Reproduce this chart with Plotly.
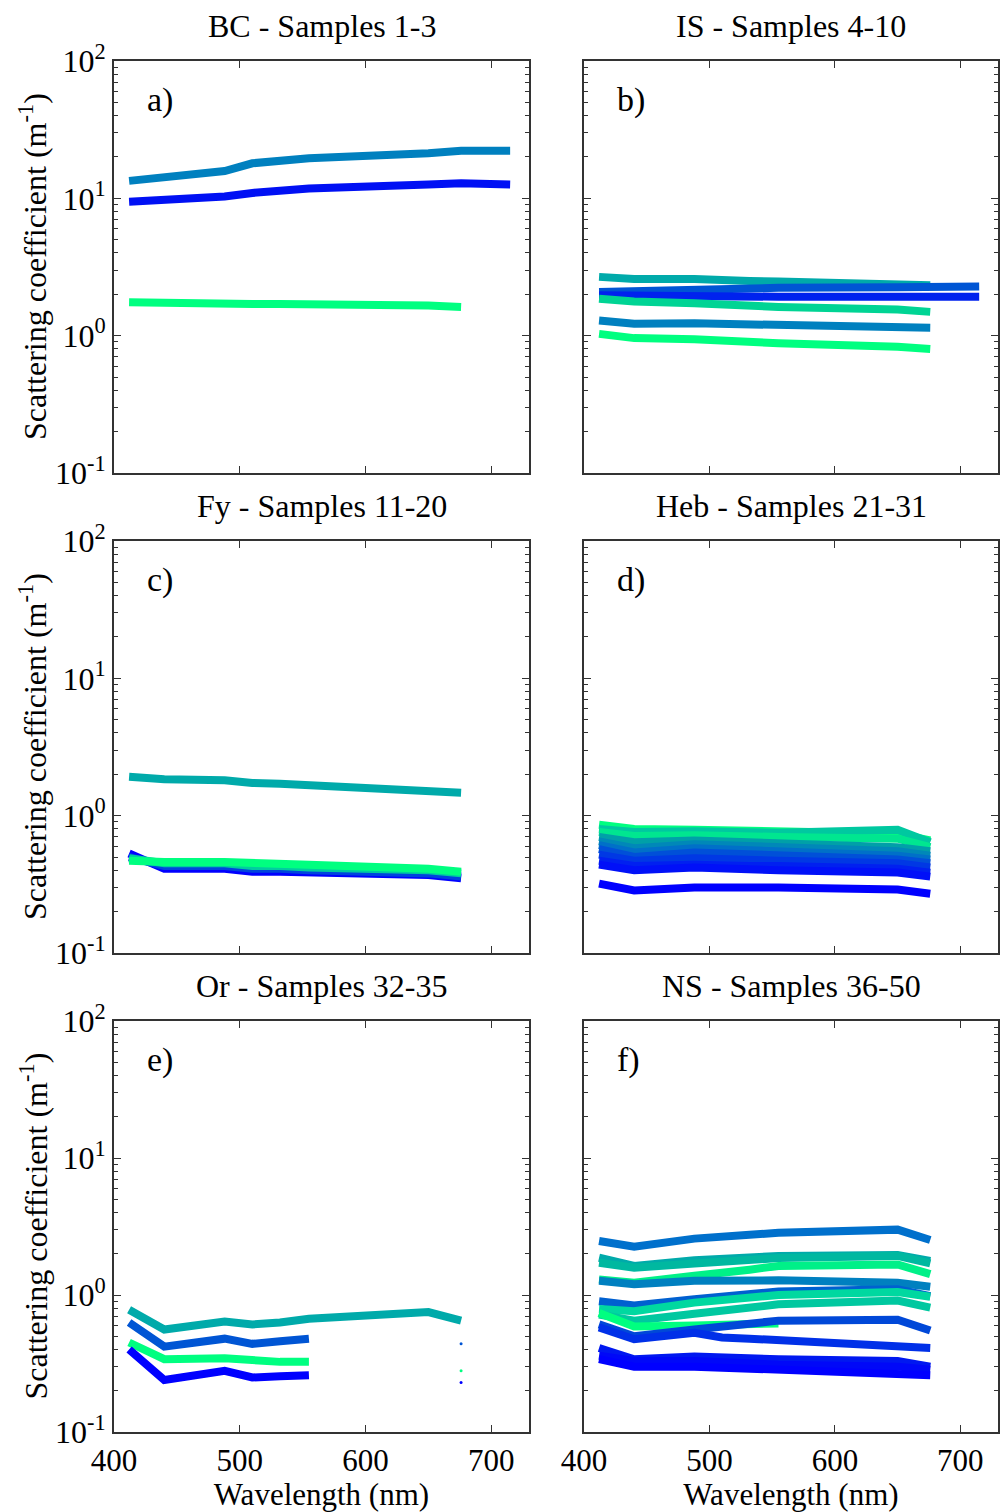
import plotly.graph_objects as go

# ---------------- data ----------------
wavelengths = [412, 440, 488, 510, 532, 555, 650, 676, 715]

panel_titles = ["BC - Samples 1-3", "IS - Samples 4-10", "Fy - Samples 11-20",
                "Heb - Samples 21-31", "Or - Samples 32-35", "NS - Samples 36-50"]
panel_letters = ["a)", "b)", "c)", "d)", "e)", "f)"]
y_title = "Scattering coefficient (m<sup>-1</sup>)"
x_title = "Wavelength (nm)"

ytick_vals = [0.1, 1, 10, 100]
ytick_text = ["10<sup>-1</sup>", "10<sup>0</sup>", "10<sup>1</sup>", "10<sup>2</sup>"]
ytick_minor = [m * d for d in (0.1, 1, 10) for m in range(2, 10)]
xtick_vals = [400, 500, 600, 700]

N = None

bc_values = [
    [9.45, 9.7, 10.3, 10.95, 11.5, 11.8, 12.6, 12.9, 12.6],
    [13.4, 14.2, 15.8, 18.0, 18.8, 19.6, 21.3, 22.2, 22.2],
    [1.75, 1.72, 1.72, 1.70, 1.70, 1.70, 1.66, 1.62, N],
]
bc_colors = ["#0010F4", "#0080BF", "#00FF80"]

is_values = [
    [2.68, 2.59, 2.59, 2.52, 2.50, 2.48, 2.37, 2.33, N],
    [2.08, 2.12, 2.18, 2.20, 2.22, 2.23, 2.25, 2.27, 2.28],
    [1.97, 1.95, 1.94, 1.92, 1.92, 1.92, 1.92, 1.92, 1.92],
    [1.86, 1.77, 1.72, 1.67, 1.65, 1.62, 1.55, 1.49, N],
    [1.29, 1.22, 1.23, 1.22, 1.21, 1.19, 1.17, 1.14, N],
    [1.03, 0.96, 0.94, 0.91, 0.90, 0.88, 0.83, 0.80, N],
]
is_colors = ["#00AAAA", "#0055D4", "#0022EE", "#00D494", "#0080BF", "#00FF80"]

fy_values = [
    [1.92, 1.84, 1.81, 1.73, 1.71, 1.67, 1.55, 1.47, N],
    [0.53, 0.41, 0.41, 0.39, 0.39, 0.385, 0.37, 0.35, N],
    [0.50, 0.43, 0.43, 0.41, 0.41, 0.40, 0.38, 0.36, N],
    [0.49, 0.45, 0.45, 0.43, 0.43, 0.42, 0.40, 0.38, N],
    [0.47, 0.46, 0.46, 0.45, 0.44, 0.44, 0.41, 0.39, N],
]
fy_colors = ["#00AAAA", "#0000FF", "#0044DD", "#00CCA0", "#00FF80"]

heb_values = [
    [0.86, 0.80, 0.79, 0.78, 0.77, 0.76, 0.74, 0.66, N],
    [0.80, 0.76, 0.77, 0.76, 0.76, 0.75, 0.79, 0.64, N],
    [0.76, 0.71, 0.72, 0.71, 0.70, 0.70, 0.68, 0.59, N],
    [0.70, 0.64, 0.66, 0.65, 0.64, 0.63, 0.59, 0.55, N],
    [0.65, 0.58, 0.62, 0.61, 0.60, 0.59, 0.55, 0.51, N],
    [0.61, 0.54, 0.58, 0.57, 0.56, 0.55, 0.51, 0.48, N],
    [0.57, 0.50, 0.54, 0.53, 0.52, 0.52, 0.48, 0.45, N],
    [0.52, 0.47, 0.49, 0.48, 0.47, 0.47, 0.45, 0.42, N],
    [0.47, 0.43, 0.44, 0.43, 0.43, 0.43, 0.41, 0.385, N],
    [0.44, 0.40, 0.42, 0.41, 0.40, 0.40, 0.385, 0.36, N],
    [0.32, 0.285, 0.30, 0.30, 0.30, 0.30, 0.29, 0.27, N],
]
heb_colors = ["#00FF80", "#00C8A0", "#00E690", "#00A0A8", "#0088B8", "#0070C8",
              "#0050D8", "#0038E4", "#0020F0", "#0010F8", "#0000FF"]

or_values = [
    [0.78, 0.56, 0.64, 0.61, 0.63, 0.67, 0.75, 0.65, N],
    [0.63, 0.42, 0.48, 0.44, 0.46, 0.48, N, 0.44, N],
    [0.45, 0.34, 0.345, 0.333, 0.325, 0.325, N, 0.28, N],
    [0.40, 0.24, 0.28, 0.25, 0.255, 0.26, N, 0.23, N],
]
or_colors = ["#00AAAA", "#0055D4", "#00FF80", "#0000FF"]

ns_values = [
    [2.48, 2.25, 2.58, 2.62, 2.75, 2.85, 3.0, 2.52, N],
    [1.87, 1.63, 1.79, 1.82, 1.87, 1.93, 1.96, 1.77, N],
    [1.72, 1.58, 1.70, 1.74, 1.80, 1.86, 1.93, 1.70, N],
    [1.30, 1.23, 1.38, 1.44, 1.53, 1.63, 1.67, 1.42, N],
    [1.27, 1.20, 1.27, 1.28, 1.28, 1.28, 1.23, 1.15, N],
    [0.90, 0.84, 0.93, 0.97, 1.02, 1.06, 1.10, 0.98, N],
    [0.79, 0.76, 0.88, 0.92, 0.96, 1.00, 1.05, 0.97, N],
    [0.72, 0.65, 0.73, 0.77, 0.82, 0.855, 0.91, 0.81, N],
    [0.74, 0.59, 0.60, 0.61, 0.61, 0.62, N, N, N],
    [0.61, 0.50, 0.56, 0.59, 0.62, 0.65, 0.66, 0.55, N],
    [0.58, 0.475, 0.53, 0.49, 0.48, 0.47, 0.42, 0.41, N],
    [0.41, 0.34, 0.355, 0.35, 0.34, 0.34, 0.33, 0.30, N],
    [0.36, 0.33, 0.33, 0.32, 0.32, 0.31, 0.30, 0.285, N],
    [0.34, 0.30, 0.30, 0.295, 0.29, 0.29, 0.27, 0.26, N],
]
ns_colors = ["#0070CC", "#00AAAA", "#00B8A0", "#00F088", "#0080C0", "#0060D0",
             "#00D8A0", "#00C8A0", "#00FF80", "#0048D8", "#0030E8", "#0018F0",
             "#0008F8", "#0000FF"]

panels = [(bc_values, bc_colors), (is_values, is_colors), (fy_values, fy_colors),
          (heb_values, heb_colors), (or_values, or_colors), (ns_values, ns_colors)]

# ---------------- layout geometry (pixels) ----------------
W, H = 1000, 1512
col_px = [(114, 529), (584, 998)]
row_px = [(61, 473), (541, 953), (1021, 1432)]

FONT = "Liberation Serif, Times New Roman, serif"
FS = 31
LINE_COL = "#333333"

fig = go.Figure()
layout = dict(width=W, height=H, margin=dict(l=0, r=0, t=0, b=0, autoexpand=False),
              paper_bgcolor="white", plot_bgcolor="white", showlegend=False,
              font=dict(family=FONT, size=FS, color="black"))
annotations = []

for i, (vals, cols) in enumerate(panels):
    r, c = divmod(i, 2)
    k = "" if i == 0 else str(i + 1)
    xd = [col_px[c][0] / W, col_px[c][1] / W]
    yd = [1 - row_px[r][1] / H, 1 - row_px[r][0] / H]
    layout["xaxis" + k] = dict(
        domain=xd, range=[400, 730], anchor="y" + k, automargin=False,
        tickmode="array", tickvals=xtick_vals, showticklabels=(r == 2),
        ticks="inside", ticklen=7, tickwidth=1.2, tickcolor=LINE_COL,
        showline=True, linecolor=LINE_COL, linewidth=2, mirror="ticks",
        showgrid=False, zeroline=False,
        tickfont=dict(family=FONT, size=FS, color="black"),
        title=dict(text=x_title if r == 2 else "",
                   font=dict(family=FONT, size=FS, color="black")),
    )
    layout["yaxis" + k] = dict(
        domain=yd, type="log", range=[-1, 2], anchor="x" + k, automargin=False,
        tickmode="array", tickvals=ytick_vals, ticktext=ytick_text, showticklabels=(c == 0),
        ticks="inside", ticklen=7, tickwidth=1.2, tickcolor=LINE_COL,
        minor=dict(tickmode="array", tickvals=ytick_minor, ticks="inside", ticklen=4,
                   tickwidth=1.2, tickcolor=LINE_COL, showgrid=False),
        showline=True, linecolor=LINE_COL, linewidth=2, mirror="ticks",
        showgrid=False, zeroline=False,
        tickfont=dict(family=FONT, size=FS + 1, color="black"),
    )
    xr, yr = "x" + k, "y" + k
    for v, col in zip(vals, cols):
        fig.add_trace(go.Scatter(x=wavelengths, y=v, mode="lines", xaxis=xr, yaxis=yr,
                                 line=dict(color=col, width=8), connectgaps=False,
                                 hoverinfo="skip"))
        # isolated points (neighbours missing) drawn as small dots
        iso_x, iso_y = [], []
        for j, val in enumerate(v):
            if val is None:
                continue
            left = v[j - 1] if j > 0 else None
            right = v[j + 1] if j < len(v) - 1 else None
            if left is None and right is None:
                iso_x.append(wavelengths[j])
                iso_y.append(val)
        if iso_x:
            fig.add_trace(go.Scatter(x=iso_x, y=iso_y, mode="markers", xaxis=xr, yaxis=yr,
                                     marker=dict(color=col, size=3), hoverinfo="skip"))
    annotations.append(dict(text=panel_titles[i], xref=xr + " domain", yref=yr + " domain",
                            x=0.5, y=1, xanchor="center", yanchor="bottom", yshift=15,
                            showarrow=False, font=dict(family=FONT, size=FS + 1, color="black")))
    annotations.append(dict(text=panel_letters[i], xref=xr + " domain", yref=yr + " domain",
                            x=0.075, y=0.905, xanchor="left", yanchor="middle",
                            showarrow=False, font=dict(family=FONT, size=FS + 3, color="black")))
    if c == 0:
        annotations.append(dict(text=y_title, xref="paper", yref=yr + " domain",
                                x=33 / W, y=0.5, xanchor="center", yanchor="middle",
                                textangle=-90, showarrow=False,
                                font=dict(family=FONT, size=FS + 1, color="black")))

layout["annotations"] = annotations
fig.update_layout(**layout)
fig.write_html("out.html")
